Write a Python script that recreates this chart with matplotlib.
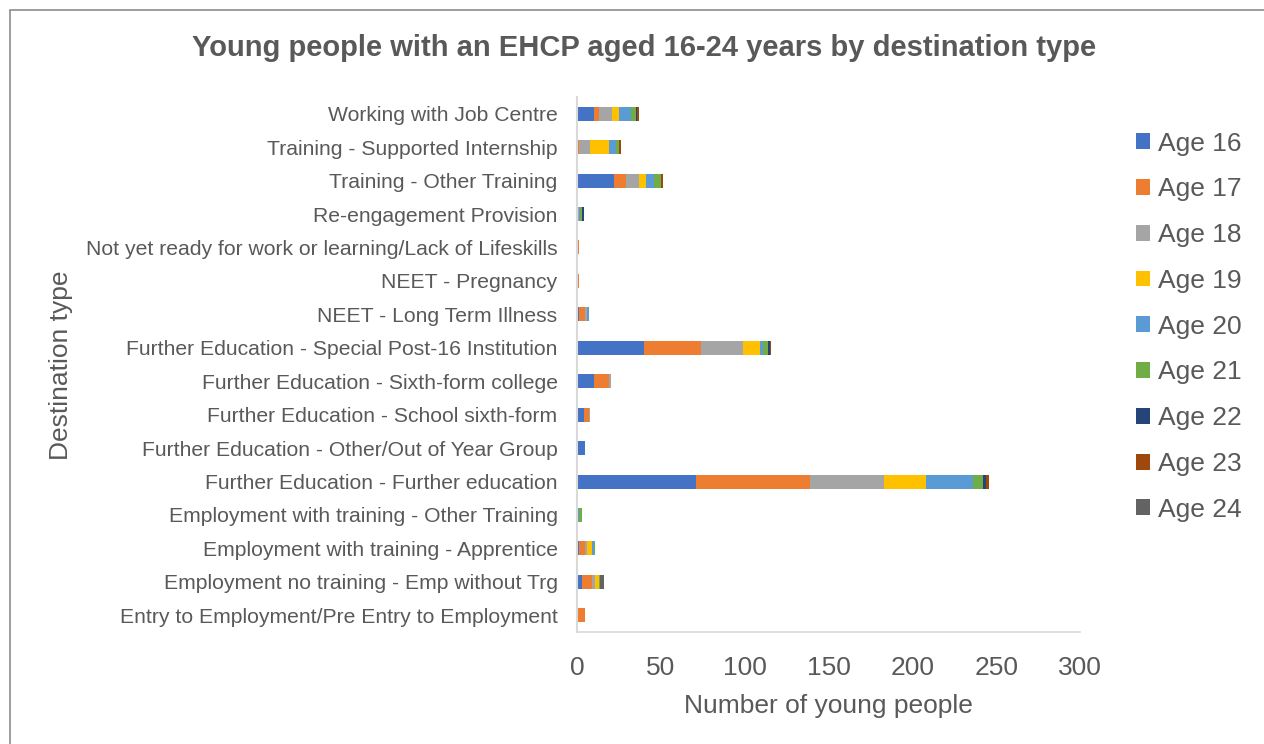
import matplotlib.pyplot as plt
import numpy as np
from matplotlib.patches import Rectangle, Patch

plt.rcParams['font.family'] = ['Liberation Sans', 'DejaVu Sans']

# categories bottom -> top (as drawn on the y axis)
categories = [
    'Entry to Employment/Pre Entry to Employment',
    'Employment no training - Emp without Trg',
    'Employment with training - Apprentice',
    'Employment with training - Other Training',
    'Further Education - Further education',
    'Further Education - Other/Out of Year Group',
    'Further Education - School sixth-form',
    'Further Education - Sixth-form college',
    'Further Education - Special Post-16 Institution',
    'NEET - Long Term Illness',
    'NEET - Pregnancy',
    'Not yet ready for work or learning/Lack of Lifeskills',
    'Re-engagement Provision',
    'Training - Other Training',
    'Training - Supported Internship',
    'Working with Job Centre',
]

ages = ['Age 16', 'Age 17', 'Age 18', 'Age 19', 'Age 20',
        'Age 21', 'Age 22', 'Age 23', 'Age 24']

# one list per age, same order as categories
age16 = [0, 3, 1, 0, 71, 5, 4, 10, 40, 1, 0, 0, 0, 22, 0, 10]
age17 = [5, 6, 4, 0, 68, 0, 3, 9, 34, 4, 1, 1, 0, 7, 1, 3]
age18 = [0, 2, 1, 0, 44, 0, 1, 1, 25, 1, 0, 0, 1, 8, 7, 8]
age19 = [0, 2, 3, 0, 25, 0, 0, 0, 10, 0, 0, 0, 0, 4, 11, 4]
age20 = [0, 0, 1, 1, 28, 0, 0, 0, 2, 1, 0, 0, 1, 5, 4, 7]
age21 = [0, 1, 1, 2, 6, 0, 0, 0, 3, 0, 0, 0, 1, 4, 2, 3]
age22 = [0, 0, 0, 0, 2, 0, 0, 0, 1, 0, 0, 0, 1, 0, 0, 1]
age23 = [0, 0, 0, 0, 2, 0, 0, 0, 1, 0, 0, 0, 0, 1, 1, 1]
age24 = [0, 2, 0, 0, 0, 0, 0, 0, 0, 0, 0, 0, 0, 0, 0, 0]

series = [age16, age17, age18, age19, age20, age21, age22, age23, age24]
colors = ['#4472C4', '#ED7D31', '#A5A5A5', '#FFC000', '#5B9BD5',
          '#70AD47', '#264478', '#9E480E', '#636363']

text_col = '#595959'

fig = plt.figure(figsize=(12.64, 7.44), dpi=100)
fig.patches.append(Rectangle((10 / 1264, -0.1), 1.1, 1 - 10 / 744 + 0.1,
                             transform=fig.transFigure, fill=False,
                             edgecolor='#8c8c8c', linewidth=1.2))

ax = fig.add_axes([577 / 1264, 1 - 632 / 744, 503 / 1264, 535 / 744])

y = np.arange(len(categories))
left = np.zeros(len(categories))
for vals, col, lab in zip(series, colors, ages):
    ax.barh(y, vals, left=left, height=0.42, color=col, label=lab,
            linewidth=0)
    left += np.array(vals)

ax.set_xlim(0, 300)
ax.set_ylim(-0.5, len(categories) - 0.5)
ax.set_yticks(y)
ax.set_yticklabels(categories, fontsize=15.2, color=text_col)
ax.set_xticks(np.arange(0, 301, 50))
ax.tick_params(axis='x', labelsize=19, colors=text_col, length=0, pad=17)
ax.tick_params(axis='y', length=0, pad=14)
for s in ['top', 'right']:
    ax.spines[s].set_visible(False)
ax.spines['left'].set_color('#d9d9d9')
ax.spines['bottom'].set_color('#d9d9d9')
ax.spines['left'].set_linewidth(1.5)
ax.spines['bottom'].set_linewidth(1.2)

ax.set_xlabel('Number of young people', fontsize=19, color=text_col, labelpad=10)
fig.text(61 / 1264, 1 - 365 / 744, 'Destination type', rotation=90,
         fontsize=19, color=text_col, ha='center', va='center')

fig.text(644 / 1264, 1 - 48 / 744,
         'Young people with an EHCP aged 16-24 years by destination type',
         fontsize=21, fontweight='bold', color=text_col,
         ha='center', va='center')

handles = [Patch(facecolor=c, edgecolor='none') for c in colors]
leg = fig.legend(handles, ages, loc='upper left',
                 bbox_to_anchor=(1125 / 1264, 1 - 121 / 744),
                 frameon=False, fontsize=19, handlelength=0.55,
                 handleheight=0.55, handletextpad=0.3, labelspacing=0.825,
                 borderaxespad=0)
for t in leg.get_texts():
    t.set_color(text_col)

fig.savefig('out.png', dpi=100)
